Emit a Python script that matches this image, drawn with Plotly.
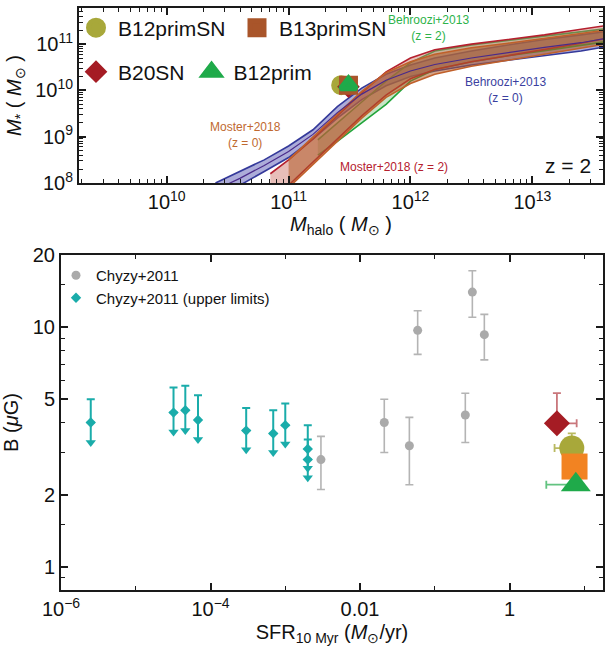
import math
import plotly.graph_objects as go

# ---------------- TOP PANEL DATA (log10 values) ----------------
# Behroozi+2013 (z = 0)
beh0_logMh = [10.4, 10.6, 10.8, 11.0, 11.2, 11.4, 11.6, 11.8, 12.0, 12.2, 12.5, 12.8, 13.1, 13.4, 13.6]
beh0_lo = [7.7, 7.95, 8.25, 8.55, 8.95, 9.4, 9.8, 10.1, 10.3, 10.42, 10.55, 10.65, 10.74, 10.85, 10.94]
beh0_hi = [8.0, 8.25, 8.5, 8.8, 9.15, 9.65, 10.05, 10.35, 10.55, 10.7, 10.85, 10.98, 11.1, 11.2, 11.27]
beh0_mid = [7.85, 8.1, 8.38, 8.68, 9.05, 9.52, 9.92, 10.22, 10.42, 10.56, 10.7, 10.82, 10.93, 11.03, 11.12]
# Behroozi+2013 (z = 2)
beh2_logMh = [11.24, 11.4, 11.6, 11.8, 12.0, 12.2, 12.5, 12.8, 13.1, 13.4, 13.6]
beh2_lo = [8.6, 8.9, 9.3, 9.7, 10.2, 10.45, 10.62, 10.75, 10.86, 10.97, 11.05]
beh2_hi = [8.93, 9.3, 9.75, 10.2, 10.6, 10.85, 10.98, 11.08, 11.17, 11.27, 11.33]
# Moster+2018 (z = 2)
mos2_logMh = [10.85, 11.0, 11.2, 11.4, 11.6, 11.8, 12.0, 12.2, 12.5, 12.8, 13.1, 13.4, 13.6]
mos2_lo = [7.6, 7.95, 8.45, 8.95, 9.45, 9.9, 10.25, 10.45, 10.62, 10.75, 10.88, 11.02, 11.12]
mos2_hi = [8.2, 8.5, 8.95, 9.45, 9.95, 10.4, 10.7, 10.88, 11.0, 11.1, 11.2, 11.32, 11.4]
# Moster+2018 (z = 0)
mos0_logMh = [11.0, 11.2, 11.4, 11.6, 11.8, 12.0, 12.2, 12.5, 12.8, 13.1, 13.4, 13.6]
mos0_lo = [7.9, 8.4, 8.9, 9.4, 9.85, 10.15, 10.35, 10.52, 10.65, 10.78, 10.9, 11.0]
mos0_hi = [8.5, 9.0, 9.5, 9.98, 10.38, 10.62, 10.78, 10.92, 11.02, 11.12, 11.22, 11.3]

# simulations (top panel)
sim_names = ["B12primSN", "B20SN", "B13primSN", "B12prim"]
sim_Mhalo = [2.7e11, 3.1e11, 3.1e11, 3.1e11]
sim_Mstar = [1.3e10, 1.2e10, 1.3e10, 1.3e10]

# ---------------- BOTTOM PANEL DATA ----------------
chyzy_sfr = [0.003, 0.0211, 0.0457, 0.059, 0.256, 0.318, 0.46]
chyzy_B = [2.8, 4.0, 3.2, 9.7, 4.3, 14.0, 9.3]
chyzy_B_hi = [3.5, 5.0, 4.2, 11.7, 5.3, 17.2, 11.3]
chyzy_B_lo = [2.1, 3.0, 2.2, 7.7, 3.3, 11.0, 7.3]

ul_sfr = [2.5e-6, 3.2e-5, 4.6e-5, 6.8e-5, 3.0e-4, 6.9e-4, 1.0e-3, 2.0e-3, 2.0e-3]
ul_B = [4.0, 4.4, 4.5, 4.1, 3.7, 3.6, 3.9, 3.1, 2.8]
ul_cap = [5.0, 5.6, 5.7, 5.2, 4.6, 4.5, 4.8, 3.9, 3.4]
ul_tip = [3.3, 3.65, 3.7, 3.4, 3.08, 3.0, 3.25, 2.58, 2.35]

# simulations (bottom panel): B20SN, B12primSN, B13primSN, B12prim
simB_sfr = [4.3, 6.8, 7.4, 7.7]
simB_B = [3.97, 3.13, 2.62, 2.2]
simB_B_hi = [5.3, 3.6, 2.62, 2.2]
simB_sfr_lo = [4.3, 4.0, 7.4, 3.1]
simB_sfr_hi = [7.9, 6.8, 7.4, 7.7]

# ---------------- styles ----------------
FONT = "Liberation Sans, Arial, Helvetica, sans-serif"
C_OLIVE = "#a8a83a"
C_BROWN = "#a9552a"
C_ORANGE = "#f28322"
C_RED = "#a51c24"
C_GREEN = "#1faa4a"
C_CYAN = "#1aacaa"
C_GRAY = "#aaaaaa"

fig = go.Figure()


def lin(v):
    return [10 ** a for a in v]


def band(xs, lo, hi, lcol, fcol):
    X = lin(xs)
    fig.add_trace(go.Scatter(x=X, y=lin(lo), mode="lines", line=dict(color=lcol, width=1.6),
                             xaxis="x", yaxis="y", showlegend=False, hoverinfo="skip"))
    fig.add_trace(go.Scatter(x=X, y=lin(hi), mode="lines", line=dict(color=lcol, width=1.6),
                             fill="tonexty", fillcolor=fcol,
                             xaxis="x", yaxis="y", showlegend=False, hoverinfo="skip"))


band(beh0_logMh, beh0_lo, beh0_hi, "#34399a", "rgba(70,70,170,0.45)")
band(beh2_logMh, beh2_lo, beh2_hi, "#22a53a", "rgba(70,170,70,0.30)")
band(mos2_logMh, mos2_lo, mos2_hi, "#b5202e", "rgba(205,110,100,0.45)")
band(mos0_logMh, mos0_lo, mos0_hi, "#c0602a", "rgba(175,90,40,0.55)")
fig.add_trace(go.Scatter(x=lin(beh0_logMh), y=lin(beh0_mid), mode="lines",
                         line=dict(color="#4a2a8a", width=1.2), xaxis="x", yaxis="y",
                         showlegend=False, hoverinfo="skip"))

# top simulation points (also the legend entries)
top_styles = {
    "B12primSN": dict(symbol="circle", color=C_OLIVE, size=15, legend="legend"),
    "B20SN": dict(symbol="diamond", color=C_RED, size=12, legend="legend3"),
    "B13primSN": dict(symbol="square", color=C_BROWN, size=14, legend="legend"),
    "B12prim": dict(symbol="triangle-up", color=C_GREEN, size=14, legend="legend3"),
}
legend_rank = {"B12primSN": 1, "B13primSN": 2, "B20SN": 3, "B12prim": 4}
for name, mh, ms in zip(sim_names, sim_Mhalo, sim_Mstar):
    s = top_styles[name]
    fig.add_trace(go.Scatter(x=[mh], y=[ms], mode="markers", name=name,
                             marker=dict(symbol=s["symbol"], size=s["size"], color=s["color"],
                                         line=dict(color=s["color"], width=5)),
                             xaxis="x", yaxis="y", legend=s["legend"],
                             legendrank=legend_rank[name], showlegend=True))

# ---------------- bottom panel ----------------
fig.add_trace(go.Scatter(
    x=chyzy_sfr, y=chyzy_B, mode="markers", name="Chyzy+2011",
    marker=dict(symbol="circle", size=9, color=C_GRAY),
    error_y=dict(type="data", symmetric=False,
                 array=[h - v for h, v in zip(chyzy_B_hi, chyzy_B)],
                 arrayminus=[v - l for l, v in zip(chyzy_B_lo, chyzy_B)],
                 color="#b4b4b4", thickness=1.6, width=4),
    xaxis="x2", yaxis="y2", legend="legend2", legendgroup="a", legendrank=1))

# arrow shafts of the upper limits (down to the arrow heads)
fig.add_trace(go.Scatter(
    x=ul_sfr, y=ul_B, mode="markers", showlegend=False, hoverinfo="skip",
    marker=dict(size=1, color="rgba(0,0,0,0)"),
    error_y=dict(type="data", symmetric=False, array=[0] * len(ul_B),
                 arrayminus=[v - t for v, t in zip(ul_B, ul_tip)],
                 color=C_CYAN, thickness=2, width=0),
    xaxis="x2", yaxis="y2"))
# arrow heads
fig.add_trace(go.Scatter(
    x=ul_sfr, y=ul_tip, mode="markers", showlegend=False, hoverinfo="skip",
    marker=dict(symbol="triangle-down", size=9, color=C_CYAN),
    xaxis="x2", yaxis="y2"))

fig.add_trace(go.Scatter(
    x=ul_sfr, y=ul_B, mode="markers", name="Chyzy+2011 (upper limits)",
    marker=dict(symbol="diamond", size=8, color=C_CYAN),
    error_y=dict(type="data", symmetric=False,
                 array=[c - v for c, v in zip(ul_cap, ul_B)],
                 arrayminus=[0] * len(ul_B),
                 color=C_CYAN, thickness=2, width=4),
    xaxis="x2", yaxis="y2", legend="legend2", legendgroup="b", legendrank=2))

bot_styles = [
    dict(symbol="diamond", color=C_RED, size=20, ecol="rgba(165,28,36,0.6)"),
    dict(symbol="circle", color=C_OLIVE, size=25, ecol="rgba(168,168,58,0.8)"),
    dict(symbol="square", color=C_ORANGE, size=26, ecol="rgba(242,131,34,0.8)"),
    dict(symbol="triangle-up", color=C_GREEN, size=26, ecol="rgba(31,170,74,0.7)"),
]
for s, x, y, yh, xl, xh in zip(bot_styles, simB_sfr, simB_B, simB_B_hi, simB_sfr_lo, simB_sfr_hi):
    fig.add_trace(go.Scatter(
        x=[x], y=[y], mode="markers", showlegend=False,
        marker=dict(symbol=s["symbol"], size=s["size"], color=s["color"]),
        error_y=dict(type="data", symmetric=False, array=[yh - y], arrayminus=[0],
                     color=s["ecol"], thickness=1.8, width=4, visible=(yh > y)),
        error_x=dict(type="data", symmetric=False, array=[xh - x], arrayminus=[x - xl],
                     color=s["ecol"], thickness=1.8, width=4, visible=(xh > x or xl < x)),
        xaxis="x2", yaxis="y2"))

# ---------------- annotations (text) ----------------
annotations = []
texts = [
    ("Behroozi+2013<br>(z = 2)", 428, 28, "#2db34a", 12),
    ("Behroozi+2013<br>(z = 0)", 506, 90, "#3b3fa0", 12),
    ("Moster+2018<br>(z = 0)", 245, 135, "#c0692f", 12),
    ("Moster+2018 (z = 2)", 394, 167, "#b5202e", 12),
    ("z = 2", 568, 166, "#111111", 21),
]
for t, px, py, col, fs in texts:
    annotations.append(dict(text=t, x=px / 605, y=(646 - py) / 646, xref="paper", yref="paper",
                            showarrow=False, xanchor="center", yanchor="middle",
                            font=dict(color=col, size=fs, family=FONT)))

# ---------------- axes ----------------
AX = dict(showline=True, linewidth=2, linecolor="#1a1a1a", mirror="allticks",
          ticks="inside", ticklen=7, tickwidth=1.5, tickcolor="#1a1a1a",
          showgrid=False, zeroline=False, automargin=False,
          tickfont=dict(size=20, family=FONT, color="#111"))

top_xt = [1e10, 1e11, 1e12, 1e13]
top_yt = [1e8, 1e9, 1e10, 1e11]
top_xminor = [m * 10 ** d for d in range(9, 14) for m in range(2, 10)]
top_yminor = [m * 10 ** d for d in range(8, 12) for m in range(2, 10)]
bot_xt = [1e-6, 1e-4, 1e-2, 1]
bot_xminor = [1e-5, 1e-3, 1e-1, 10]
bot_yt = [1, 2, 5, 10, 20]
bot_yminor = [0.9, 1.5, 3, 4, 6, 7, 8, 9, 15]

MINOR = dict(tickmode="array", ticks="inside", ticklen=4, tickwidth=1, tickcolor="#1a1a1a")

fig.update_layout(
    width=605, height=646, margin=dict(l=0, r=0, t=0, b=0),
    paper_bgcolor="white", plot_bgcolor="white", template="none",
    font=dict(family=FONT, color="#111"),
    xaxis=dict(AX, type="log", range=[9.28, 13.58], domain=[79 / 605, 603 / 605], anchor="y",
               tickmode="array", tickvals=top_xt,
               ticktext=["10<sup>10</sup>", "10<sup>11</sup>", "10<sup>12</sup>", "10<sup>13</sup>"],
               minor=dict(MINOR, tickvals=top_xminor),
               title=dict(text="<i>M</i><sub>halo</sub> ( <i>M</i><sub>⊙</sub> )",
                          font=dict(size=20, family=FONT), standoff=4)),
    yaxis=dict(AX, type="log", range=[8, 11.78], domain=[(646 - 183) / 646, (646 - 8) / 646], anchor="x",
               tickmode="array", tickvals=top_yt,
               ticktext=["10<sup>8</sup>", "10<sup>9</sup>", "10<sup>10</sup>", "10<sup>11</sup>"],
               minor=dict(MINOR, tickvals=top_yminor),
               title=dict(text="<i>M</i><sub>*</sub> ( <i>M</i><sub>⊙</sub> )",
                          font=dict(size=20, family=FONT), standoff=8)),
    xaxis2=dict(AX, type="log", range=[-6, 1.25], domain=[61 / 605, 603 / 605], anchor="y2",
                tickmode="array", tickvals=bot_xt,
                ticktext=["10<sup>−6</sup>", "10<sup>−4</sup>", "0.01", "1"],
                minor=dict(MINOR, tickvals=bot_xminor),
                title=dict(text="SFR<sub>10 Myr</sub> (<i>M</i><sub>⊙</sub>/yr)",
                           font=dict(size=20, family=FONT), standoff=6)),
    yaxis2=dict(AX, type="log", range=[math.log10(0.8), math.log10(20)],
                domain=[(646 - 590) / 646, (646 - 255) / 646], anchor="x2",
                tickmode="array", tickvals=bot_yt, ticktext=["1", "2", "5", "10", "20"],
                minor=dict(MINOR, tickvals=bot_yminor),
                title=dict(text="B (<i>μ</i>G)", font=dict(size=20, family=FONT), standoff=10)),
    legend=dict(orientation="h", x=74 / 605, y=(646 - 28) / 646, xanchor="left", yanchor="middle",
                font=dict(size=21, family=FONT, color="#111"), bgcolor="rgba(0,0,0,0)",
                traceorder="normal", itemclick=False, itemwidth=34, entrywidth=112),
    legend3=dict(orientation="h", x=74 / 605, y=(646 - 72) / 646, xanchor="left", yanchor="middle",
                 font=dict(size=21, family=FONT, color="#111"), bgcolor="rgba(0,0,0,0)",
                 traceorder="normal", itemclick=False, itemwidth=34),
    legend2=dict(orientation="v", x=56 / 605, y=(646 - 259) / 646, xanchor="left", yanchor="top",
                 font=dict(size=15, family=FONT, color="#111"), bgcolor="rgba(0,0,0,0)",
                 traceorder="normal", tracegroupgap=8, itemclick=False),
    annotations=annotations,
)

fig.write_html("out.html")
